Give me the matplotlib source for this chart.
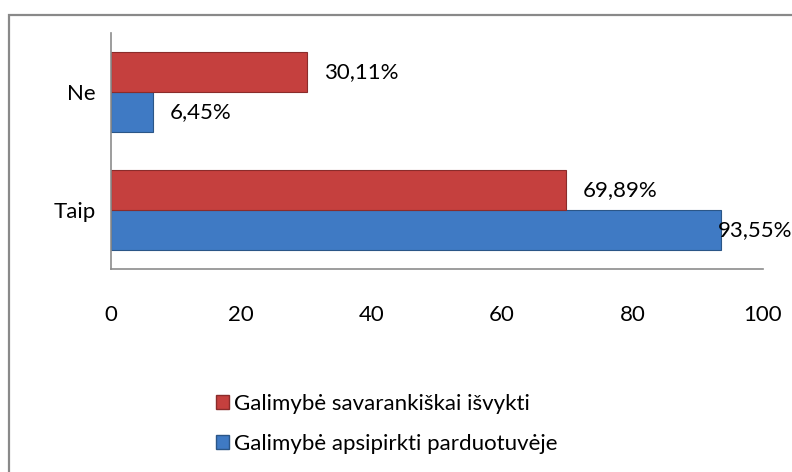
import numpy as np
import matplotlib.pyplot as plt
from matplotlib.patches import Rectangle, Patch

plt.rcParams['font.family'] = ['Lato', 'DejaVu Sans']

# data
categories = ['Taip', 'Ne']
series_names = ['Galimybė apsipirkti parduotuvėje', 'Galimybė savarankiškai išvykti']
shop = [93.55, 6.45]
travel = [69.89, 30.11]
xticks = [0, 20, 40, 60, 80, 100]

blue = '#3F7AC4'
blue_edge = '#2B5687'
red = '#C5403E'
red_edge = '#8A2C2B'
fs = 16

fig = plt.figure(figsize=(7.92, 4.72), dpi=100)
ax = fig.add_axes([0.140, 0.430, 0.823, 0.500])

y = np.arange(len(categories))
h = 0.34
b1 = ax.barh(y - h / 2, shop, height=h, color=blue, edgecolor=blue_edge, linewidth=0.8)
b2 = ax.barh(y + h / 2, travel, height=h, color=red, edgecolor=red_edge, linewidth=0.8)

# value labels like excel (comma decimal)
def lab(bars, vals):
    for bar, v in zip(bars, vals):
        cx = bar.get_y() + bar.get_height() / 2
        off = 12 if v < 90 else -2
        ax.annotate(f'{v:.2f}%'.replace('.', ','), (v, cx), xytext=(off, 0),
                    textcoords='offset points', va='center', ha='left', fontsize=fs,
                    clip_on=False)

lab(b1, shop)
lab(b2, travel)

ax.set_xlim(0, 100)
ax.set_ylim(-0.5, 1.5)
ax.set_yticks(y)
ax.set_yticklabels(categories, fontsize=fs)
ax.set_xticks(xticks)
ax.set_xticklabels([str(t) for t in xticks], fontsize=fs)
ax.tick_params(axis='both', length=0)
ax.tick_params(axis='x', pad=26)
ax.tick_params(axis='y', pad=11)
for s in ['top', 'right']:
    ax.spines[s].set_visible(False)
for s in ['left', 'bottom']:
    ax.spines[s].set_color('#8c8c8c')
    ax.spines[s].set_linewidth(1.2)

handles = [Patch(facecolor=red, edgecolor=red_edge, label=series_names[1]),
           Patch(facecolor=blue, edgecolor=blue_edge, label=series_names[0])]
fig.legend(handles=handles, loc='upper left', bbox_to_anchor=(0.261, 0.185),
           bbox_transform=fig.transFigure, frameon=False, fontsize=fs,
           handlelength=0.6, handleheight=0.6, handletextpad=0.25, labelspacing=0.91,
           borderaxespad=0)

# outer chart frame (cut off at right and bottom)
fig.add_artist(Rectangle((9 / 792, -0.05), 1.2, 1 - 15 / 472 + 0.05,
                         transform=fig.transFigure, fill=False,
                         edgecolor='#898989', linewidth=1.6))

fig.savefig('out.png', dpi=100)
